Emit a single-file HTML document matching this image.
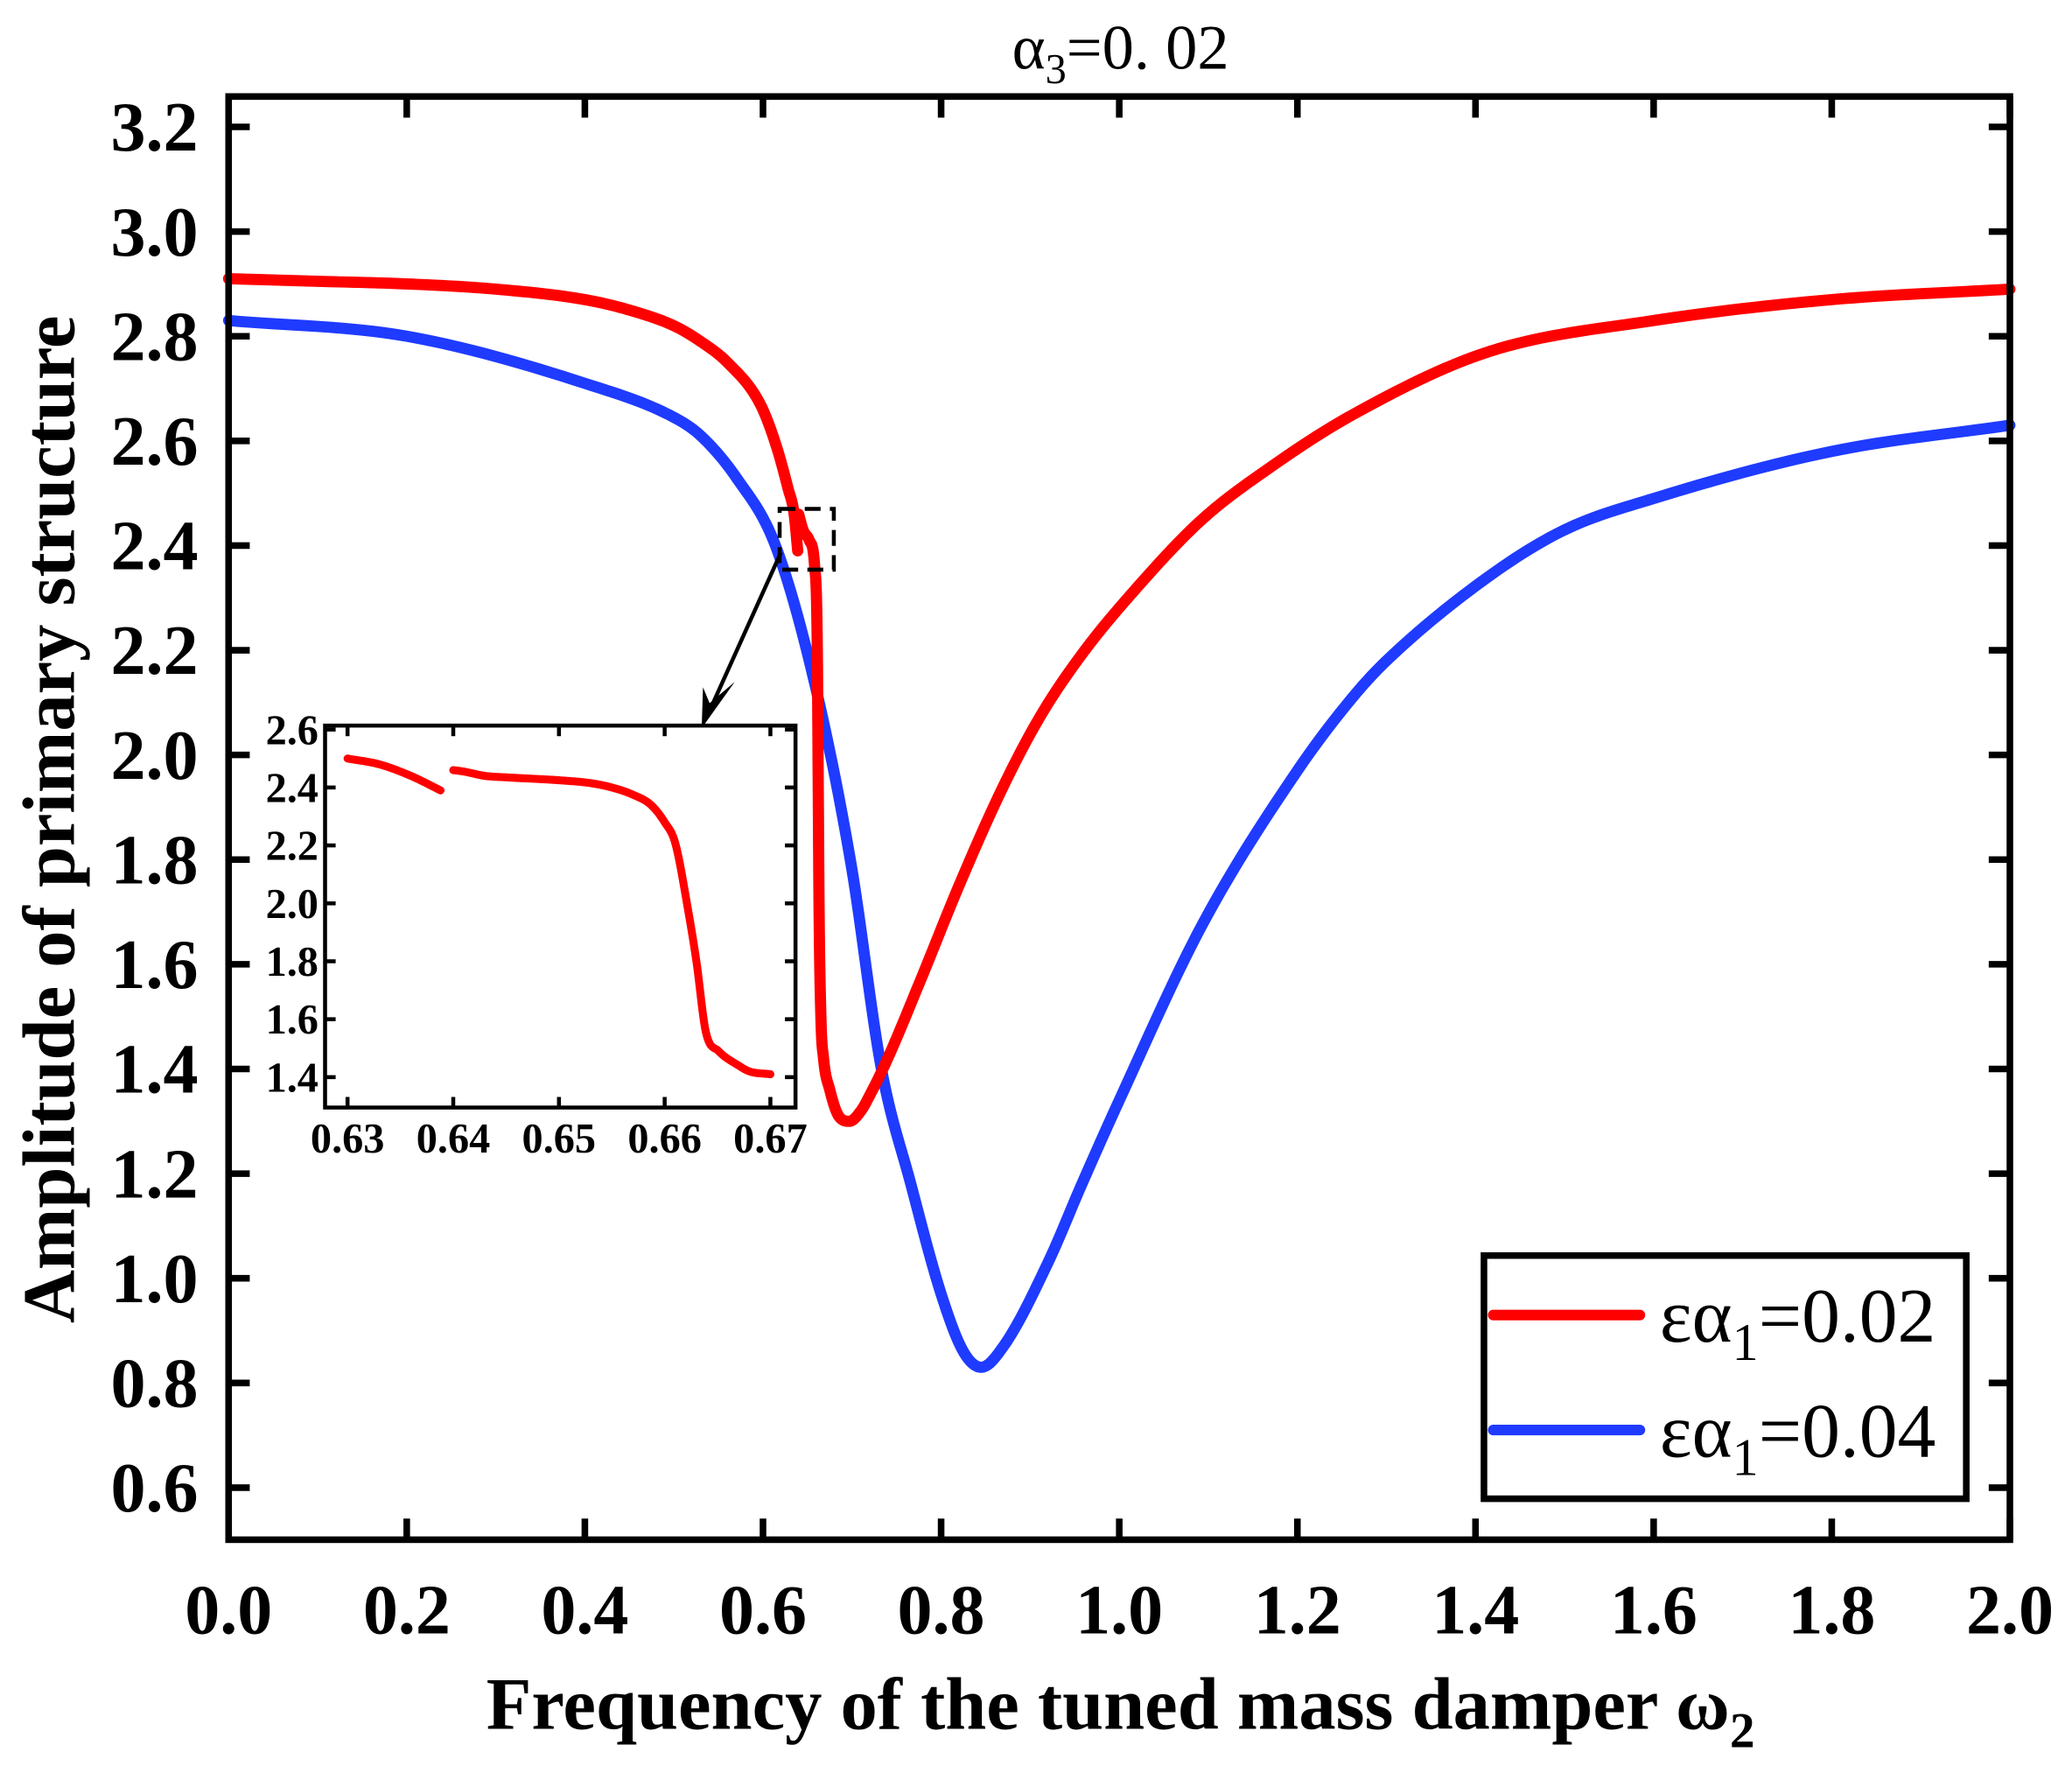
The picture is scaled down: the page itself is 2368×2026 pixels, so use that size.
<!DOCTYPE html>
<html><head><meta charset="utf-8"><style>
html,body{margin:0;padding:0;background:#fff}
svg{display:block}
text{font-family:"Liberation Serif",serif;fill:#000}
</style></head><body>
<svg id="chart" width="2368" height="2026" viewBox="0 0 1568 1341.5" xmlns="http://www.w3.org/2000/svg">
<g id="main"></g>
<g id="inset"></g>
<text x="848" y="52" font-size="48" text-anchor="middle">α<tspan font-size="32" dy="11">3</tspan><tspan dy="-11">=0. 02</tspan></text>
<text x="848" y="1308" font-size="56" font-weight="bold" text-anchor="middle">Frequency of the tuned mass damper ω<tspan font-size="38" dy="14">2</tspan></text>
<text transform="translate(56,620) rotate(-90)" font-size="56" font-weight="bold" text-anchor="middle">Amplitude of primary structure</text>
</svg>
<script>
const xTicks=[0,0.2,0.4,0.6,0.8,1.0,1.2,1.4,1.6,1.8,2.0];
const yTicks=[0.6,0.8,1.0,1.2,1.4,1.6,1.8,2.0,2.2,2.4,2.6,2.8,3.0,3.2];
const redX1=[0,0.1,0.2,0.3,0.4,0.45,0.5,0.53,0.56,0.597,0.615,0.628,0.635,0.639];
const redY1=[2.91,2.905,2.90,2.89,2.87,2.85,2.82,2.79,2.75,2.67,2.59,2.51,2.46,2.39];
const redX2=[0.640,0.645,0.652,0.658,0.661,0.662,0.663,0.665,0.668,0.675,0.685,0.697,0.71,0.72,0.74,0.777,0.82,0.867,0.91,0.957,1.02,1.093,1.17,1.262,1.414,1.6,1.8,2.0];
const redY2=[2.46,2.43,2.41,2.36,2.20,1.95,1.70,1.50,1.42,1.36,1.31,1.30,1.32,1.35,1.42,1.57,1.75,1.93,2.07,2.19,2.32,2.45,2.55,2.65,2.77,2.83,2.87,2.89];
const blueX=[0,0.2,0.4,0.5,0.53,0.57,0.614,0.659,0.699,0.733,0.766,0.8,0.825,0.845,0.87,0.92,0.958,1.0,1.093,1.2,1.262,1.3,1.414,1.5,1.6,1.8,2.0];
const blueY=[2.83,2.80,2.71,2.645,2.61,2.53,2.40,2.13,1.79,1.40,1.18,0.97,0.86,0.83,0.87,1.03,1.18,1.34,1.675,1.97,2.11,2.18,2.34,2.43,2.49,2.58,2.63];
const insetXTicks=[0.63,0.64,0.65,0.66,0.67];
const insetYTicks=[1.4,1.6,1.8,2.0,2.2,2.4,2.6];
const inX1=[0.630,0.633,0.636,0.6388];
const inY1=[2.50,2.48,2.44,2.39];
const inX2=[0.640,0.641,0.643,0.645,0.650,0.653,0.655,0.657,0.6587,0.660,0.661,0.6622,0.663,0.6639,0.6651,0.667,0.668,0.670];
const inY2=[2.46,2.455,2.44,2.435,2.425,2.415,2.40,2.375,2.34,2.28,2.208,1.98,1.80,1.555,1.49,1.44,1.42,1.41];

const NS='http://www.w3.org/2000/svg';
function mk(parent,tag,attrs){const e=document.createElementNS(NS,tag);for(const k in attrs)e.setAttribute(k,attrs[k]);parent.appendChild(e);return e;}
// monotone cubic (Fritsch-Carlson) interpolation in data space, sampled densely
function monotone(xs,ys,fx,fy){
 const n=xs.length,d=[],m=[];
 for(let i=0;i<n-1;i++)d.push((ys[i+1]-ys[i])/(xs[i+1]-xs[i]));
 m[0]=d[0];m[n-1]=d[n-2];
 for(let i=1;i<n-1;i++){m[i]=(d[i-1]*d[i]<=0)?0:(d[i-1]+d[i])/2;}
 for(let i=0;i<n-1;i++){if(d[i]===0){m[i]=0;m[i+1]=0;continue;}const a=m[i]/d[i],b=m[i+1]/d[i],s=a*a+b*b;if(s>9){const t=3/Math.sqrt(s);m[i]=t*a*d[i];m[i+1]=t*b*d[i];}}
 let path='M'+fx(xs[0]).toFixed(2)+','+fy(ys[0]).toFixed(2);
 for(let i=0;i<n-1;i++){const h=xs[i+1]-xs[i];const N=16;
  for(let k=1;k<=N;k++){const t=k/N,t2=t*t,t3=t2*t;
   const y=(2*t3-3*t2+1)*ys[i]+(t3-2*t2+t)*h*m[i]+(-2*t3+3*t2)*ys[i+1]+(t3-t2)*h*m[i+1];
   path+=' L'+fx(xs[i]+t*h).toFixed(2)+','+fy(y).toFixed(2);}}
 return path;}

const L=173,R=1521,T=73,B=1165;
const sx=v=>L+v/2.0*(R-L);
const sy=v=>96+(3.2-v)*396;
const main=document.getElementById('main');
function series(g,xs,ys,fx,fy,color,w,name){const p=mk(g,'path',{d:monotone(xs,ys,fx,fy),fill:'none',stroke:color,'stroke-width':w,'stroke-linecap':'round','stroke-linejoin':'round'});


return p;}
series(main,blueX,blueY,sx,sy,'#1f3bff',8.5,'series-ea1-0.04');
series(main,redX1,redY1,sx,sy,'#ff0000',8.5,'series-ea1-0.02-part1');
series(main,redX2,redY2,sx,sy,'#ff0000',8.5,'series-ea1-0.02-part2');
const frame=mk(main,'rect',{x:L,y:T,width:R-L,height:B-T,fill:'none',stroke:'#000','stroke-width':5});


xTicks.forEach(v=>{const x=sx(v);
 mk(main,'line',{x1:x,y1:B,x2:x,y2:B-16,stroke:'#000','stroke-width':5});
 mk(main,'line',{x1:x,y1:T,x2:x,y2:T+16,stroke:'#000','stroke-width':5});
 const t=mk(main,'text',{x:x,y:1236,'font-size':53,'font-weight':'bold','text-anchor':'middle'});t.textContent=v.toFixed(1);
 
 });
yTicks.forEach(v=>{const y=sy(v);
 mk(main,'line',{x1:L,y1:y,x2:L+16,y2:y,stroke:'#000','stroke-width':5});
 mk(main,'line',{x1:R,y1:y,x2:R-16,y2:y,stroke:'#000','stroke-width':5});
 const t=mk(main,'text',{x:150,y:y+18,'font-size':53,'font-weight':'bold','text-anchor':'end'});t.textContent=v.toFixed(1);
 
 });
const zb=mk(main,'rect',{x:590,y:385,width:41,height:46,fill:'none',stroke:'#000','stroke-width':3,'stroke-dasharray':'12,7'});


const ar=mk(main,'line',{x1:591,y1:418,x2:536,y2:540,stroke:'#000','stroke-width':3});


mk(main,'path',{d:'M531,551 L532,520 L537,532 L556,516 Z',fill:'#000'});
const lg=mk(main,'g',{});


mk(lg,'rect',{x:1123,y:950,width:365,height:184,fill:'#fff',stroke:'#000','stroke-width':5});
[['#ff0000','0.02',995],['#1f3bff','0.04',1082]].forEach(([c,v,y])=>{
 const e=mk(lg,'g',{});
 
 
 mk(e,'line',{x1:1130,y1:y,x2:1241,y2:y,stroke:c,'stroke-width':8,'stroke-linecap':'round'});
 const t=mk(e,'text',{x:1256,y:y+20,'font-size':58});
 t.innerHTML='εα<tspan font-size="40" dy="14">1</tspan><tspan dy="-14">='+v+'</tspan>';});

const inset=document.getElementById('inset');
const IL=246,IR=602,IT=549,IB=838;
const ix=v=>263+(v-0.63)/0.04*(583-263);
const iy=v=>552+(2.6-v)/1.2*(815-552);
mk(inset,'rect',{x:IL,y:IT,width:IR-IL,height:IB-IT,fill:'#fff',stroke:'#000','stroke-width':3});
series(inset,inX1,inY1,ix,iy,'#ff0000',6,'inset-series-part1');
series(inset,inX2,inY2,ix,iy,'#ff0000',6,'inset-series-part2');
insetXTicks.forEach(v=>{const x=ix(v);
 mk(inset,'line',{x1:x,y1:IB,x2:x,y2:IB-8,stroke:'#000','stroke-width':3});
 mk(inset,'line',{x1:x,y1:IT,x2:x,y2:IT+8,stroke:'#000','stroke-width':3});
 const t=mk(inset,'text',{x:x,y:872,'font-size':32,'font-weight':'bold','text-anchor':'middle'});t.textContent=v.toFixed(2);
 
 });
insetYTicks.forEach(v=>{const y=iy(v);
 mk(inset,'line',{x1:IL,y1:y,x2:IL+8,y2:y,stroke:'#000','stroke-width':3});
 mk(inset,'line',{x1:IR,y1:y,x2:IR-8,y2:y,stroke:'#000','stroke-width':3});
 const t=mk(inset,'text',{x:241,y:y+11,'font-size':32,'font-weight':'bold','text-anchor':'end'});t.textContent=v.toFixed(1);
 
 });
</script>
</body></html>
